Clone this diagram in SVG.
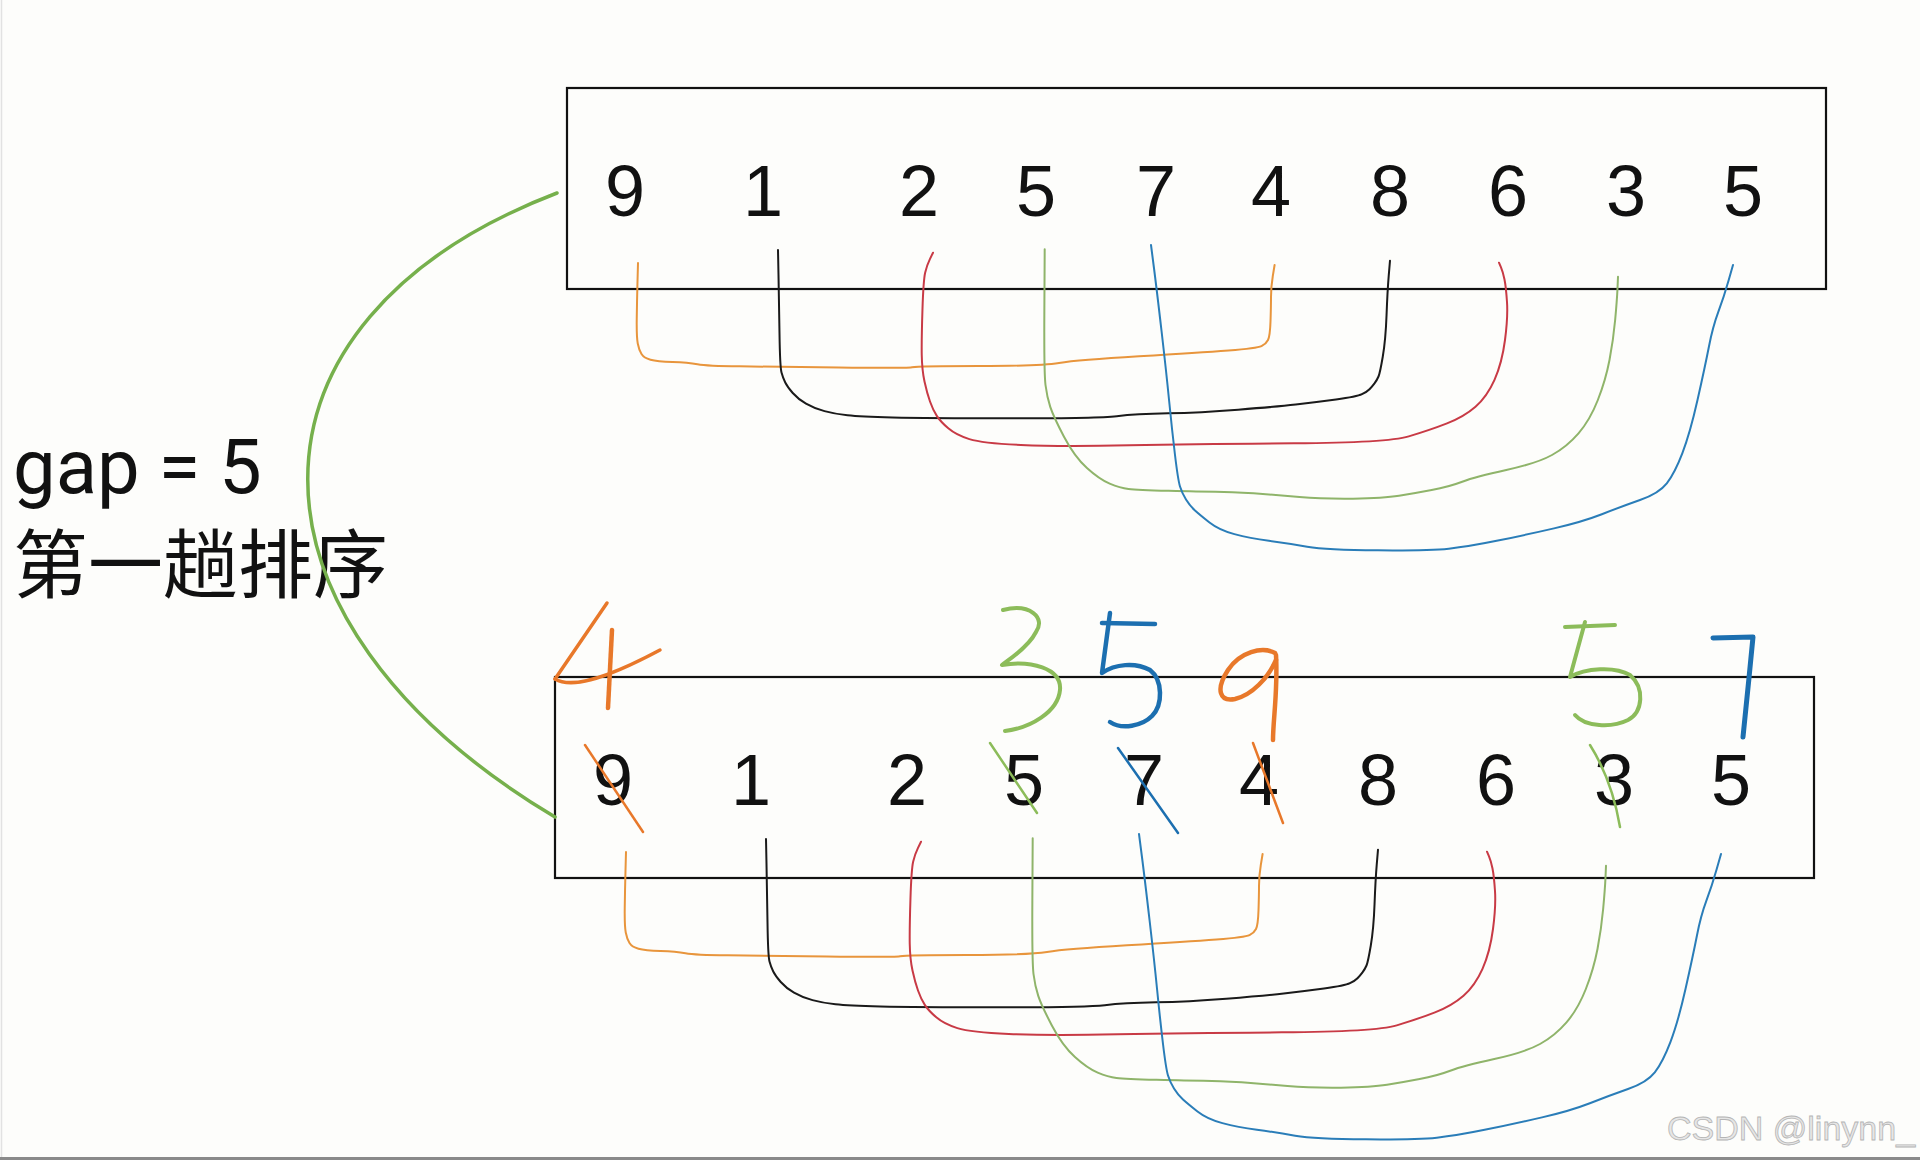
<svg xmlns="http://www.w3.org/2000/svg" width="1920" height="1160" viewBox="0 0 1920 1160">
<style>
.box{fill:none;stroke:#111;stroke-width:2.2}
.dig{font-family:"Liberation Sans",Arial,sans-serif;font-size:72px;fill:#111;text-anchor:middle}
.c{fill:none;stroke-width:2;stroke-linejoin:round;stroke-linecap:round}
.hw{fill:none;stroke-linecap:round;stroke-linejoin:round}
.o{stroke:#E8782A}
.g{stroke:#8CBC5A}
.b{stroke:#1C6FB0}
</style>
<rect x="0" y="0" width="1920" height="1160" fill="#FDFDFB"/>
<line x1="1.5" y1="0" x2="1.5" y2="1157" stroke="#e2e2e2" stroke-width="1.5"/>
<rect x="0" y="1157" width="1920" height="3" fill="#8a8a8a"/>

<g id="label">
<text x="13" y="493" font-family="Roboto,'Noto Sans',sans-serif" font-size="76" fill="#111">gap = 5</text>
<text x="13" y="592" font-family="'Noto Sans CJK SC','Noto Sans',sans-serif" font-size="75" fill="#111">第一趟排序</text>
</g>

<g id="array-top">
<rect class="box" x="567" y="88" width="1259" height="201"/>
<text class="dig" x="625" y="216">9</text>
<text class="dig" x="763" y="216">1</text>
<text class="dig" x="919" y="216">2</text>
<text class="dig" x="1036" y="216">5</text>
<text class="dig" x="1156" y="216">7</text>
<text class="dig" x="1271" y="216">4</text>
<text class="dig" x="1390" y="216">8</text>
<text class="dig" x="1508" y="216">6</text>
<text class="dig" x="1626" y="216">3</text>
<text class="dig" x="1743" y="216">5</text>
</g>
<use id="array-bottom" href="#array-top" transform="translate(-12,589)"/>

<g id="connectors">
<g id="conn-top">
<path class="c" stroke="#E8953C" stroke-width="2.4" d="M638,263 L637.5,281.5 Q637,300 636.75,318.5 Q636.5,337 637.75,343.5 Q639,350 641.5,354 Q644,358 650.5,359.75 Q657,361.5 672.5,362 Q688,362.5 697.5,364.25 Q707,366 739.5,366.35 Q772,366.7 839,367.5 Q906,368.3 912,367.15 Q918,366 979,366 Q1040,366 1059,363 Q1078,360 1139,356.35 Q1200,352.7 1228.5,350.5 Q1257,348.3 1261.5,346.15 Q1266,344 1268,340 Q1270,336 1270.5,321.5 Q1271,307 1271,297 Q1271,287 1272.8,276 L1274.6,265"/>
<path class="c" stroke="#1a1a1a" d="M778,250 L778.5,275 Q779,300 779.5,333.5 Q780,367 781.5,372.5 Q783,378 785.25,382.5 Q787.5,387 792.75,393 Q798,399 806,403.65 Q814,408.3 824.5,411.15 Q835,414 847.5,415.35 Q860,416.7 892.5,417.5 Q925,418.3 1011.25,418.3 Q1097.5,418.3 1116.75,416.15 Q1136,414 1168,413.35 Q1200,412.7 1238.25,409.7 Q1276.5,406.7 1295.75,404.5 Q1315,402.3 1336,399.5 Q1357,396.7 1362,394.2 Q1367,391.7 1369.5,389.2 Q1372,386.7 1374.5,383.35 Q1377,380 1378.5,376.5 Q1380,373 1382.8,356.5 Q1385.6,340 1386.55,315 Q1387.5,290 1388.75,275.35 L1390,260.7"/>
<path class="c" stroke="#C83A45" d="M933,252.7 L930,258.85 Q927,265 925.2,272.5 Q923.4,280 922.45,310 Q921.5,340 921.75,355 Q922,370 924.5,381.5 Q927,393 930,401.5 Q933,410 936.8,415.85 Q940.6,421.7 948.3,428.35 Q956,435 969.35,439.15 Q982.7,443.3 1020.85,445 Q1059,446.7 1129.5,445.35 Q1200,444 1293.75,443.35 Q1387.5,442.7 1408.75,436.35 Q1430,430 1447,423.35 Q1464,416.7 1475.5,406.7 Q1487,396.7 1494.5,379.85 Q1502,363 1505,340 Q1508,317 1507,302 Q1506,287 1504.5,279.5 Q1503,272 1501,267.35 L1499,262.7"/>
<path class="c" stroke="#8FB46A" d="M1044.7,249.3 L1044.35,311.15 Q1044,373 1045.5,385 Q1047,397 1050.25,406.85 Q1053.5,416.7 1064,436.7 Q1074.5,456.7 1086.95,468 Q1099.4,479.3 1109.7,483.65 Q1120,488 1128.5,489 Q1137,490 1168.5,490.85 Q1200,491.7 1215.3,491.7 Q1230.6,491.7 1253.55,493.35 Q1276.5,495 1299.5,497 Q1322.5,499 1353.1,498.65 Q1383.7,498.3 1399,495.8 Q1414.3,493.3 1431.65,490 Q1449,486.7 1462.25,481.7 Q1475.5,476.7 1506.25,470 Q1537,463.3 1552,455 Q1567,446.7 1578.5,433.35 Q1590,420 1597.85,400 Q1605.7,380 1609.5,360 Q1613.3,340 1615.15,320 Q1617,300 1617.5,288.35 L1618,276.7"/>
<path class="c" stroke="#2A7DB8" d="M1151,245 L1153.9,267.5 Q1156.8,290 1161.6,331.5 Q1166.4,373 1169.2,401.5 Q1172,430 1175,455 Q1178,480 1180,486.5 Q1182,493 1186,499.5 Q1190,506 1195,510.5 Q1200,515 1209.5,522.5 Q1219,530 1234.4,534.15 Q1249.8,538.3 1268.9,540.8 Q1288,543.3 1307.15,546.65 Q1326.3,550 1377.95,550.35 Q1429.6,550.7 1448.8,548.7 Q1468,546.7 1496.65,540.85 Q1525.3,535 1554,528.35 Q1582.7,521.7 1601.85,514.2 Q1621,506.7 1640,500 Q1659,493.3 1666.8,483.3 Q1674.6,473.3 1682.3,453.3 Q1690,433.3 1697.5,400 Q1705,366.7 1708.9,346.7 Q1712.8,326.7 1718.4,311.7 Q1724,296.7 1728.5,280.85 L1733,265"/>
</g>
<use id="conn-bottom" href="#conn-top" transform="translate(-12,589)"/>
<path id="gap-link" fill="none" stroke="#76B04C" stroke-width="3.5" stroke-linecap="round" d="M557,193 C225,320 225,620 555,817"/>
</g>

<g id="annotations">
<g class="hw o" stroke-width="3.5">
<path d="M607,603 L555,679"/>
<path d="M555,679 C570,688 600,682 660,650"/>
<path d="M612,630 L608,708" stroke-width="4.5"/>
<path d="M1275,653 C1262,646 1240,652 1228,670 C1215,690 1220,702 1235,699 C1252,695 1268,678 1276,660" stroke-width="4.5"/>
<path d="M1276,655 C1278,690 1273,720 1273,740" stroke-width="4.5"/>
<path d="M585,745 L643,832" stroke-width="2.5"/>
<path d="M1253,743 L1283,823" stroke-width="2.5"/>
</g>
<g class="hw g" stroke-width="4">
<path d="M1003,610 C1030,603 1046,618 1036,632 C1028,648 1008,660 1002,665 C1030,660 1062,668 1060,690 C1058,712 1030,728 1005,731"/>
<path d="M1565,627 L1615,625"/>
<path d="M1585,622 L1570,677 C1585,668 1615,666 1630,675 C1645,688 1643,712 1628,720 C1612,728 1585,727 1575,715"/>
<path d="M990,743 L1037,813" stroke-width="2.5"/>
<path d="M1590,745 Q1612,780 1620,827" stroke-width="2.5"/>
</g>
<g class="hw b" stroke-width="4.5">
<path d="M1102,623 L1155,624"/>
<path d="M1110,613 L1102,673 C1115,664 1135,662 1150,670 C1163,680 1163,705 1152,716 C1142,726 1122,730 1110,722"/>
<path d="M1713,638 L1753,637 C1750,670 1746,705 1743,737" stroke-width="5"/>
<path d="M1118,748 L1178,833" stroke-width="2.5"/>
</g>
</g>

<text id="watermark" x="1667" y="1140" font-family="'Liberation Sans',Arial,sans-serif" font-size="34" fill="#e6e6e6" stroke="#b5b5b5" stroke-width="0.8">CSDN @linynn_</text>
</svg>
